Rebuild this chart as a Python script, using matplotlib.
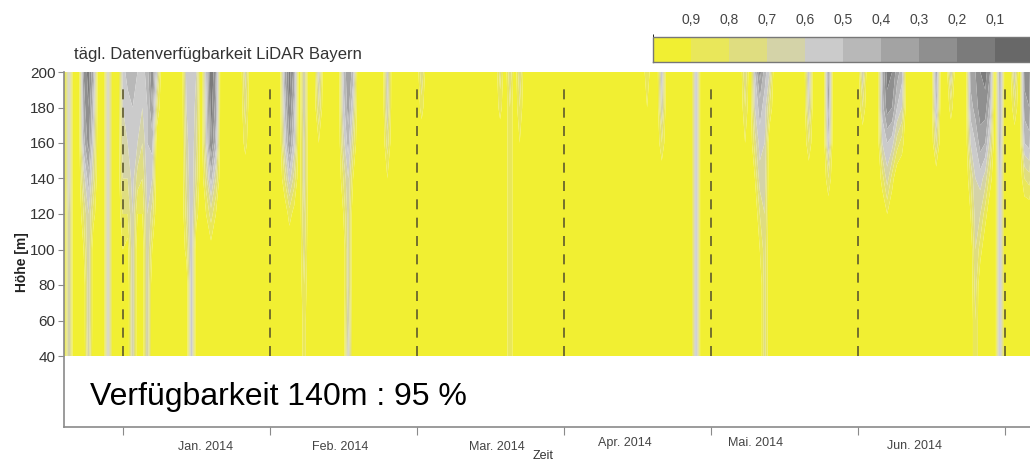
import numpy as np
import matplotlib
matplotlib.use("Agg")
import matplotlib.pyplot as plt
from matplotlib.colors import ListedColormap, BoundaryNorm

plt.rcParams['font.family'] = ['Liberation Sans', 'DejaVu Sans']

# --- data -----------------------------------------------------------------
# measurement heights (m), listed from top to bottom
heights = [200, 180, 160, 140, 120, 100, 80, 60, 40]
n_days = 206

# daily availability profiles for days with gaps (all other days: 1.0)
profiles = {
    1:   [0.55, 0.55, 0.55, 0.55, 0.60, 0.60, 0.60, 0.60, 0.60],
    4:   [0.30, 0.35, 0.45, 0.65, 0.80, 0.90, 1.00, 1.00, 1.00],
    5:   [0.15, 0.20, 0.25, 0.45, 0.60, 0.60, 0.60, 0.60, 0.65],
    6:   [0.40, 0.50, 0.60, 0.70, 0.85, 1.00, 1.00, 1.00, 1.00],
    9:   [0.55, 0.55, 0.55, 0.55, 0.55, 0.55, 0.55, 0.55, 0.55],
    12:  [0.55, 0.60, 0.65, 0.70, 0.80, 0.90, 1.00, 1.00, 1.00],
    13:  [0.45, 0.55, 0.60, 0.70, 0.80, 0.95, 1.00, 1.00, 1.00],
    14:  [0.50, 0.50, 0.55, 0.55, 0.60, 0.60, 0.60, 0.60, 0.60],
    15:  [0.50, 0.55, 0.60, 0.75, 0.90, 1.00, 1.00, 1.00, 1.00],
    16:  [0.55, 0.60, 0.70, 0.80, 0.90, 1.00, 1.00, 1.00, 1.00],
    17:  [0.45, 0.50, 0.50, 0.55, 0.60, 0.60, 0.60, 0.60, 0.60],
    18:  [0.20, 0.30, 0.45, 0.60, 0.75, 0.90, 1.00, 1.00, 1.00],
    19:  [0.60, 0.80, 1.00, 1.00, 1.00, 1.00, 1.00, 1.00, 1.00],
    25:  [0.55, 0.60, 0.65, 0.70, 0.75, 0.85, 1.00, 1.00, 1.00],
    26:  [0.50, 0.50, 0.50, 0.50, 0.50, 0.50, 0.50, 0.50, 0.50],
    27:  [0.60, 0.65, 0.70, 0.75, 0.85, 1.00, 1.00, 1.00, 1.00],
    29:  [0.50, 0.55, 0.60, 0.75, 0.90, 1.00, 1.00, 1.00, 1.00],
    30:  [0.10, 0.15, 0.20, 0.45, 0.75, 0.95, 1.00, 1.00, 1.00],
    31:  [0.30, 0.35, 0.45, 0.70, 0.90, 1.00, 1.00, 1.00, 1.00],
    37:  [0.65, 0.75, 0.85, 1.00, 1.00, 1.00, 1.00, 1.00, 1.00],
    45:  [0.40, 0.50, 0.60, 0.80, 1.00, 1.00, 1.00, 1.00, 1.00],
    46:  [0.15, 0.20, 0.30, 0.55, 0.85, 1.00, 1.00, 1.00, 1.00],
    47:  [0.35, 0.45, 0.55, 0.75, 0.95, 1.00, 1.00, 1.00, 1.00],
    49:  [0.60, 0.60, 0.65, 0.65, 0.70, 0.75, 0.80, 0.85, 0.85],
    52:  [0.55, 0.70, 0.90, 1.00, 1.00, 1.00, 1.00, 1.00, 1.00],
    57:  [0.50, 0.55, 0.65, 0.80, 0.90, 1.00, 1.00, 1.00, 1.00],
    58:  [0.30, 0.35, 0.45, 0.60, 0.65, 0.65, 0.65, 0.60, 0.55],
    59:  [0.45, 0.60, 0.75, 0.90, 1.00, 1.00, 1.00, 1.00, 1.00],
    66:  [0.55, 0.60, 0.75, 0.90, 1.00, 1.00, 1.00, 1.00, 1.00],
    73:  [0.70, 0.85, 1.00, 1.00, 1.00, 1.00, 1.00, 1.00, 1.00],
    89:  [0.75, 0.85, 1.00, 1.00, 1.00, 1.00, 1.00, 1.00, 1.00],
    91:  [0.70, 0.80, 0.80, 0.80, 0.80, 0.80, 0.80, 0.80, 0.80],
    93:  [0.70, 0.80, 0.90, 1.00, 1.00, 1.00, 1.00, 1.00, 1.00],
    119: [0.80, 0.90, 1.00, 1.00, 1.00, 1.00, 1.00, 1.00, 1.00],
    122: [0.50, 0.60, 0.80, 1.00, 1.00, 1.00, 1.00, 1.00, 1.00],
    129: [0.45, 0.45, 0.45, 0.45, 0.45, 0.45, 0.45, 0.45, 0.45],
    139: [0.70, 0.80, 0.90, 1.00, 1.00, 1.00, 1.00, 1.00, 1.00],
    141: [0.50, 0.60, 0.75, 0.90, 1.00, 1.00, 1.00, 1.00, 1.00],
    142: [0.25, 0.45, 0.55, 0.65, 0.80, 0.90, 1.00, 1.00, 1.00],
    143: [0.45, 0.55, 0.60, 0.65, 0.70, 0.75, 0.75, 0.75, 0.75],
    144: [0.60, 0.80, 1.00, 1.00, 1.00, 1.00, 1.00, 1.00, 1.00],
    152: [0.50, 0.60, 0.80, 1.00, 1.00, 1.00, 1.00, 1.00, 1.00],
    156: [0.25, 0.35, 0.50, 0.80, 1.00, 1.00, 1.00, 1.00, 1.00],
    163: [0.60, 0.80, 1.00, 1.00, 1.00, 1.00, 1.00, 1.00, 1.00],
    167: [0.40, 0.45, 0.60, 0.85, 1.00, 1.00, 1.00, 1.00, 1.00],
    168: [0.15, 0.25, 0.50, 0.65, 0.90, 1.00, 1.00, 1.00, 1.00],
    169: [0.20, 0.30, 0.55, 0.85, 1.00, 1.00, 1.00, 1.00, 1.00],
    170: [0.35, 0.50, 0.75, 1.00, 1.00, 1.00, 1.00, 1.00, 1.00],
    171: [0.45, 0.60, 0.85, 1.00, 1.00, 1.00, 1.00, 1.00, 1.00],
    178: [0.30, 0.45, 0.70, 1.00, 1.00, 1.00, 1.00, 1.00, 1.00],
    181: [0.60, 0.85, 1.00, 1.00, 1.00, 1.00, 1.00, 1.00, 1.00],
    185: [0.35, 0.45, 0.60, 0.80, 0.90, 1.00, 1.00, 1.00, 1.00],
    186: [0.30, 0.35, 0.50, 0.60, 0.65, 0.70, 0.75, 0.80, 0.80],
    187: [0.20, 0.25, 0.35, 0.55, 0.70, 0.85, 1.00, 1.00, 1.00],
    188: [0.15, 0.25, 0.40, 0.65, 0.85, 1.00, 1.00, 1.00, 1.00],
    189: [0.30, 0.45, 0.65, 0.85, 1.00, 1.00, 1.00, 1.00, 1.00],
    191: [0.30, 0.35, 0.40, 0.45, 0.45, 0.45, 0.45, 0.45, 0.45],
    194: [0.60, 0.80, 1.00, 1.00, 1.00, 1.00, 1.00, 1.00, 1.00],
    196: [0.25, 0.35, 0.50, 0.80, 1.00, 1.00, 1.00, 1.00, 1.00],
    197: [0.20, 0.30, 0.45, 0.75, 1.00, 1.00, 1.00, 1.00, 1.00],
}

month_starts = [12, 42, 72, 102, 132, 162, 192]
month_labels = ["Jan. 2014", "Feb. 2014", "Mar. 2014", "Apr. 2014",
                "Mai. 2014", "Jun. 2014"]
month_label_pos = [28.8, 56.3, 88.4, 114.5, 141.2, 173.5]
month_label_dy = [-5.8, -5.8, -5.8, -4.6, -4.6, -5.6]

levels = [0.0, 0.1, 0.2, 0.3, 0.4, 0.5, 0.6, 0.7, 0.8, 0.9, 1.0]
level_colors = ["#686868", "#7b7b7b", "#8f8f8f", "#a3a3a3", "#b8b8b8",
                "#cbcbcb", "#d4d3a8", "#dfdd80", "#e9e75a", "#f1ef32"]
cbar_ticks = [0.9, 0.8, 0.7, 0.6, 0.5, 0.4, 0.3, 0.2, 0.1, 0.0]

availability_140 = 95

# --- grid -----------------------------------------------------------------
days = np.arange(n_days)
h = np.array(heights[::-1])
Z = np.ones((len(h), n_days))
for d, prof in profiles.items():
    Z[:, d] = prof[::-1]

cmap = ListedColormap(level_colors)
norm = BoundaryNorm(levels, cmap.N)

# --- figure ---------------------------------------------------------------
W, H = 1030, 463
fig = plt.figure(figsize=(W / 100, H / 100), dpi=100)

px_per_day = 4.9
x0, ytop, ybot = 64, 72, 427
ax = fig.add_axes([x0 / W, 1 - ybot / H, n_days * px_per_day / W, (ybot - ytop) / H])

cf = ax.contourf(days, h, Z, levels=levels, cmap=cmap, norm=norm, antialiased=True)
ax.vlines(month_starts, 40, 195, colors="#5e5a2c", linestyles=(0, (6, 5)), lw=1.2)

ax.set_xlim(0, n_days)
ax.set_ylim(0, 200)
ax.set_yticks(range(40, 201, 20))
ax.set_xticks(month_starts)
ax.set_xticklabels([])
for s in ("top", "right"):
    ax.spines[s].set_visible(False)
for s in ("left", "bottom"):
    ax.spines[s].set_color("#8a8a8a")
    ax.spines[s].set_linewidth(1.2)
ax.tick_params(axis="y", length=4, color="#8a8a8a", labelsize=11,
               labelcolor="#333333", pad=2)
ax.tick_params(axis="x", length=6, color="#8a8a8a")
for lab in ax.get_yticklabels():
    lab.set_family(['Liberation Sans Narrow', 'Liberation Sans'])

for lbl, xp, dy in zip(month_labels, month_label_pos, month_label_dy):
    ax.annotate(lbl, (xp, 0), xytext=(0, dy * 2.5), textcoords="offset points",
                ha="center", va="center", fontsize=9, color="#444444",
                annotation_clip=False)

fig.text(543 / W, 1 - 456 / H, "Zeit", ha="center", va="center",
         fontsize=9, color="#333333",
         family=['Liberation Sans Narrow', 'Liberation Sans'])
fig.text(22 / W, 1 - 262 / H, "Höhe [m]", rotation=90, ha="center",
         va="center", fontsize=10, color="#222222", fontweight="bold")
fig.text(74 / W, 1 - 55 / H, "tägl. Datenverfügbarkeit LiDAR Bayern",
         ha="left", va="center", fontsize=12, color="#333333")
fig.text(90 / W, 1 - 397 / H,
         f"Verfügbarkeit 140m : {availability_140} %",
         ha="left", va="center", fontsize=23, color="black")

# colour key
cax = fig.add_axes([653 / W, 1 - 62 / H, 380 / W, 25 / H])
cb = fig.colorbar(cf, cax=cax, orientation="horizontal", drawedges=True,
                  ticks=cbar_ticks)
cax.invert_xaxis()
cax.xaxis.set_ticks_position("top")
cax.set_xticklabels([f"{t:.1f}".replace(".", ",") if t > 0 else "0"
                     for t in cbar_ticks])
cax.tick_params(axis="x", length=0, labelsize=10, labelcolor="#444444", pad=7)
cb.outline.set_edgecolor("#777777")
cb.outline.set_linewidth(1.0)
cb.dividers.set_color("#555555")
cb.dividers.set_linewidth(1.0)

fig.savefig("out.png", dpi=100)
